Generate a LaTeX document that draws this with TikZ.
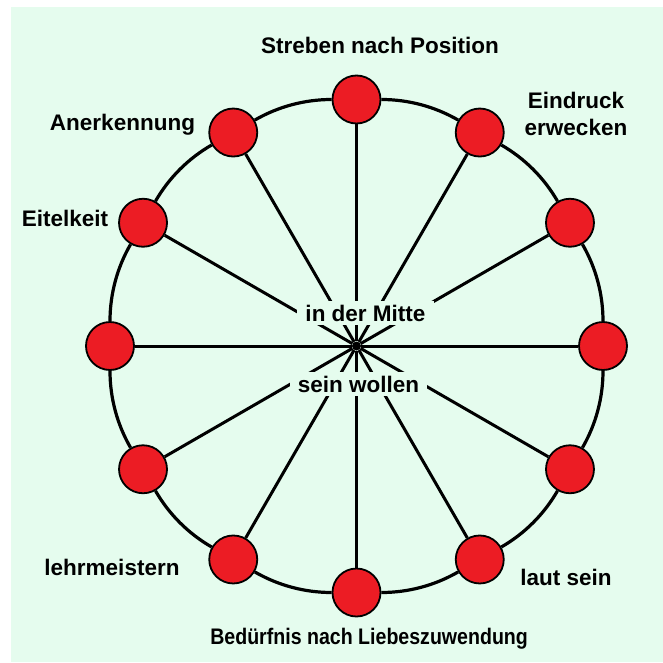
\documentclass[tikz,border=0pt]{standalone}
\usepackage{fontspec}
\setmainfont{Liberation Sans}
\usepackage{tikz}
\usetikzlibrary{positioning}
\definecolor{mint}{RGB}{229,252,238}
\definecolor{ballred}{RGB}{236,28,36}

\begin{document}
\begin{tikzpicture}[x=1pt, y=1pt]
    \tikzset{
        ball/.style={draw=black, circle, line width=1.8pt, fill=ballred,
            minimum size=48pt, inner sep=0pt},
        hub/.style={fill=black, circle, minimum size=9pt, inner sep=0pt},
        ring/.style={draw, line width=3.2pt, bend left=15, looseness=0.87},
        spoke/.style={draw, line width=3pt},
        lbl/.style={font=\fontsize{22.5}{27}\selectfont\bfseries,
            anchor=base, inner sep=0pt, align=center},
        mid/.style={lbl, fill=mint, inner xsep=8pt, inner ysep=4pt},
    }
    \useasboundingbox (-356.5,-316) rectangle (306.5,346);
    \fill[mint] (-345.5,-316) rectangle (306.5,339);

    \node[hub] (mitte) at (0,0) {};
    \node[ball] (n1) at (90:246.5) {};
    \node[ball] (n2) at (60:246.5) {};
    \node[ball] (n3) at (30:246.5) {};
    \node[ball] (n4) at (0:246.5) {};
    \node[ball] (n5) at (-30:246.5) {};
    \node[ball] (n6) at (-60:246.5) {};
    \node[ball] (n7) at (-90:246.5) {};
    \node[ball] (n8) at (-120:246.5) {};
    \node[ball] (n9) at (-150:246.5) {};
    \node[ball] (n10) at (180:246.5) {};
    \node[ball] (n11) at (150:246.5) {};
    \node[ball] (n12) at (120:246.5) {};

    % outer ring
    \draw[ring] (n1) to (n2);
    \draw[ring] (n2) to (n3);
    \draw[ring] (n3) to (n4);
    \draw[ring] (n4) to (n5);
    \draw[ring] (n5) to (n6);
    \draw[ring] (n6) to (n7);
    \draw[ring] (n7) to (n8);
    \draw[ring] (n8) to (n9);
    \draw[ring] (n9) to (n10);
    \draw[ring] (n10) to (n11);
    \draw[ring] (n11) to (n12);
    \draw[ring] (n12) to (n1);

    % spokes
    \draw[spoke] (mitte) -- (n1);
    \draw[spoke] (mitte) -- (n2);
    \draw[spoke] (mitte) -- (n3);
    \draw[spoke] (mitte) -- (n4);
    \draw[spoke] (mitte) -- (n5);
    \draw[spoke] (mitte) -- (n6);
    \draw[spoke] (mitte) -- (n7);
    \draw[spoke] (mitte) -- (n8);
    \draw[spoke] (mitte) -- (n9);
    \draw[spoke] (mitte) -- (n10);
    \draw[spoke] (mitte) -- (n11);
    \draw[spoke] (mitte) -- (n12);

    \node[mid] (oben) at (9,25) {in der Mitte};
    \node[mid] (unten) at (2,-46) {sein wollen};

    \node[lbl] (streben) at (23.5,292) {Streben nach Position};
    \node[lbl] (eindruck) at (219.5,211) {Eindruck\\erwecken};
    \node[lbl] (anerkennung) at (-234,216) {Anerkennung};
    \node[lbl] (eitelkeit) at (-291.5,120) {Eitelkeit};
    \node[lbl] (lehr) at (-244.5,-229) {lehrmeistern};
    \node[lbl] (laut) at (209.5,-239) {laut sein};
    \node[lbl, transform shape, xscale=0.87] (beduerfnis) at (12.6,-298)
        {Bedürfnis nach Liebeszuwendung};
\end{tikzpicture}
\end{document}
